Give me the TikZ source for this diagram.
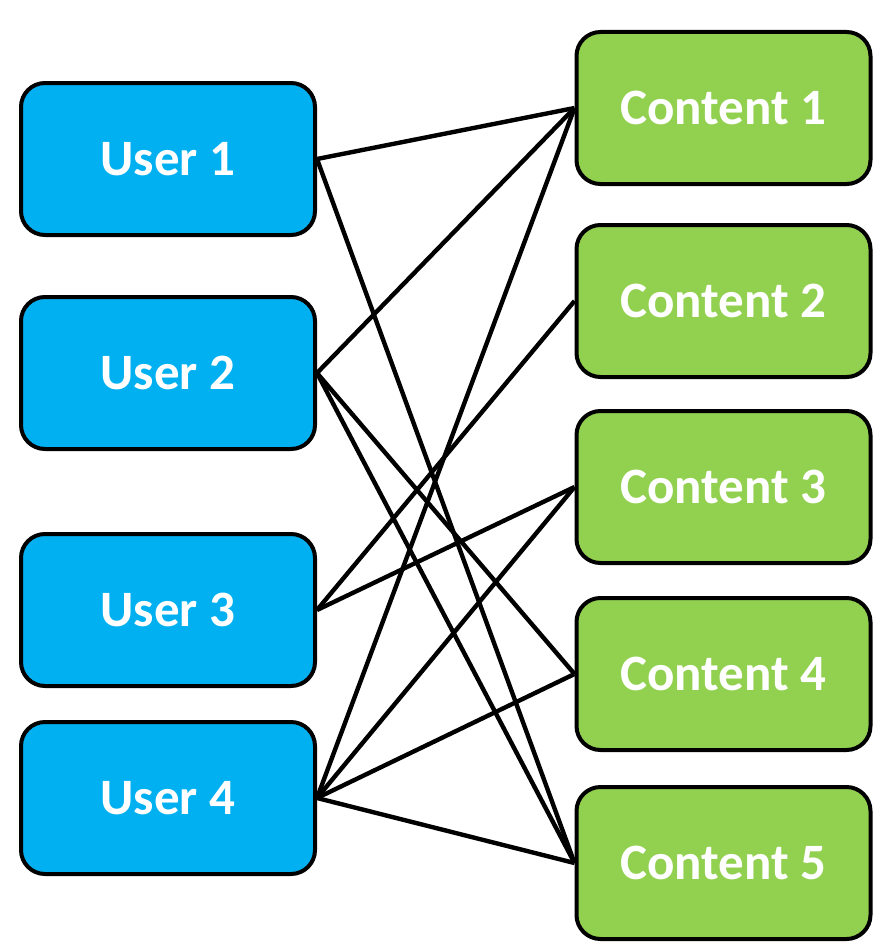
\documentclass[tikz,border=0pt]{standalone}
\usepackage{fontspec}
\setmainfont{Carlito}
\definecolor{userblue}{HTML}{00B0F0}
\definecolor{contentgreen}{HTML}{92D050}
\begin{document}
\begin{tikzpicture}[x=1pt,y=-1pt,
  box/.style={draw=black,line width=4pt,rounded corners=24pt,
    minimum width=294pt,minimum height=152pt,inner sep=0pt,
    text=white,font=\fontsize{51}{60}\selectfont\bfseries},
  userbox/.style={box,fill=userblue},
  contentbox/.style={box,fill=contentgreen},
  link/.style={line width=4.4pt,black}]
\useasboundingbox (0,0) rectangle (882,950);
\node[userbox] (u1) at (168,159) {User 1};
\node[userbox] (u2) at (168,373) {User 2};
\node[userbox] (u3) at (168,610) {User 3};
\node[userbox] (u4) at (168,798) {User 4};
\node[contentbox] (c1) at (723.5,108) {Content 1};
\node[contentbox] (c2) at (723.5,301) {Content 2};
\node[contentbox] (c3) at (723.5,487) {Content 3};
\node[contentbox] (c4) at (723.5,674) {Content 4};
\node[contentbox] (c5) at (723.5,863) {Content 5};
\draw[link] (u1.east) -- (c1.west);
\draw[link] (u1.east) -- (c5.west);
\draw[link] (u2.east) -- (c1.west);
\draw[link] (u2.east) -- (c4.west);
\draw[link] (u2.east) -- (c5.west);
\draw[link] (u3.east) -- (c2.west);
\draw[link] (u3.east) -- (c3.west);
\draw[link] (u4.east) -- (c1.west);
\draw[link] (u4.east) -- (c3.west);
\draw[link] (u4.east) -- (c4.west);
\draw[link] (u4.east) -- (c5.west);
\end{tikzpicture}
\end{document}
